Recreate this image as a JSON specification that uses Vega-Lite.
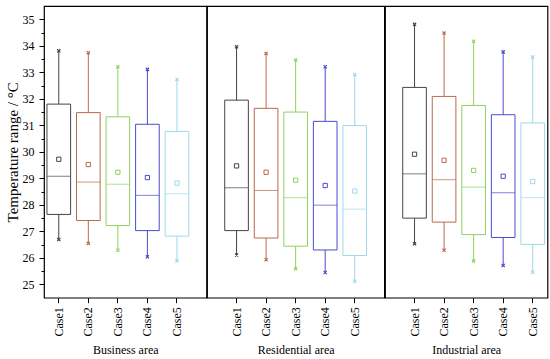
{
  "$schema": "https://vega.github.io/schema/vega-lite/v6.json",
  "padding": {"left": 4, "top": 5, "right": 5, "bottom": 4},
  "background": "white",
  "spacing": 0,
  "bounds": "flush",
  "data": {"values": [
    {"area": "Business area", "case": "Case1", "min": 26.69, "q1": 27.64, "median": 29.08, "mean": 29.72, "q3": 31.80, "max": 33.81},
    {"area": "Business area", "case": "Case2", "min": 26.54, "q1": 27.41, "median": 28.86, "mean": 29.52, "q3": 31.48, "max": 33.74},
    {"area": "Business area", "case": "Case3", "min": 26.29, "q1": 27.22, "median": 28.78, "mean": 29.23, "q3": 31.32, "max": 33.21},
    {"area": "Business area", "case": "Case4", "min": 26.04, "q1": 27.03, "median": 28.36, "mean": 29.03, "q3": 31.04, "max": 33.11},
    {"area": "Business area", "case": "Case5", "min": 25.89, "q1": 26.82, "median": 28.42, "mean": 28.82, "q3": 30.77, "max": 32.73},
    {"area": "Residential area", "case": "Case1", "min": 26.11, "q1": 27.03, "median": 28.65, "mean": 29.47, "q3": 31.95, "max": 33.96},
    {"area": "Residential area", "case": "Case2", "min": 25.93, "q1": 26.75, "median": 28.54, "mean": 29.23, "q3": 31.64, "max": 33.71},
    {"area": "Residential area", "case": "Case3", "min": 25.59, "q1": 26.44, "median": 28.27, "mean": 28.93, "q3": 31.50, "max": 33.46},
    {"area": "Residential area", "case": "Case4", "min": 25.45, "q1": 26.30, "median": 27.99, "mean": 28.73, "q3": 31.15, "max": 33.21},
    {"area": "Residential area", "case": "Case5", "min": 25.12, "q1": 26.09, "median": 27.84, "mean": 28.52, "q3": 30.99, "max": 32.91},
    {"area": "Industrial area", "case": "Case1", "min": 26.53, "q1": 27.50, "median": 29.17, "mean": 29.91, "q3": 32.43, "max": 34.81},
    {"area": "Industrial area", "case": "Case2", "min": 26.29, "q1": 27.35, "median": 28.95, "mean": 29.68, "q3": 32.09, "max": 34.48},
    {"area": "Industrial area", "case": "Case3", "min": 25.88, "q1": 26.88, "median": 28.67, "mean": 29.30, "q3": 31.75, "max": 34.17},
    {"area": "Industrial area", "case": "Case4", "min": 25.71, "q1": 26.77, "median": 28.46, "mean": 29.08, "q3": 31.40, "max": 33.77},
    {"area": "Industrial area", "case": "Case5", "min": 25.46, "q1": 26.51, "median": 28.27, "mean": 28.88, "q3": 31.09, "max": 33.58}
  ]},
  "hconcat": [
    {
      "width": 162.5, "height": 291.7,
      "transform": [{"filter": "datum.area === 'Business area'"}],
      "encoding": {
        "x": {"field": "case", "type": "nominal", "sort": null,
          "scale": {"type": "band", "paddingInner": 0.2, "paddingOuter": 0.35, "align": 0.1429},
          "axis": {"title": "Business area", "labelAngle": 270, "tickSize": 5, "labelPadding": 4, "titlePadding": 8, "domain": false}},
        "color": {"field": "case", "type": "nominal", "legend": null,
          "scale": {"domain": ["Case1", "Case2", "Case3", "Case4", "Case5"], "range": ["#444444", "#b86a4a", "#8fd35a", "#4a4ad0", "#9fd9ea"]}}
      },
      "layer": [
        {"mark": {"type": "rule", "strokeWidth": 1},
          "encoding": {
            "y": {"field": "min", "type": "quantitative", "title": "Temperature range / °C",
              "scale": {"domain": [24.5, 35.5], "nice": false, "zero": false},
              "axis": {"values": [25, 25.5, 26, 26.5, 27, 27.5, 28, 28.5, 29, 29.5, 30, 30.5, 31, 31.5, 32, 32.5, 33, 33.5, 34, 34.5, 35],
                "labelExpr": "datum.value % 1 === 0 ? format(datum.value, 'd') : ''",
                "tickSize": {"condition": {"test": "datum.value % 1 !== 0", "value": 3}, "value": 5},
                "labelOverlap": false, "grid": false, "labelPadding": 5, "titlePadding": 2, "titleFontSize": 15, "domain": false}},
            "y2": {"field": "max"}}},
        {"mark": {"type": "bar", "fill": "white", "strokeWidth": 1},
          "encoding": {
            "y": {"field": "q1", "type": "quantitative", "title": "Temperature range / °C",
              "axis": {"values": [25, 25.5, 26, 26.5, 27, 27.5, 28, 28.5, 29, 29.5, 30, 30.5, 31, 31.5, 32, 32.5, 33, 33.5, 34, 34.5, 35],
                "labelExpr": "datum.value % 1 === 0 ? format(datum.value, 'd') : ''",
                "tickSize": {"condition": {"test": "datum.value % 1 !== 0", "value": 3}, "value": 5},
                "labelOverlap": false, "grid": false, "labelPadding": 5, "titlePadding": 2, "titleFontSize": 15, "domain": false}},
            "y2": {"field": "q3"},
            "stroke": {"field": "case", "type": "nominal", "legend": null, "scale": {"domain": ["Case1", "Case2", "Case3", "Case4", "Case5"], "range": ["#444444", "#b86a4a", "#8fd35a", "#4a4ad0", "#9fd9ea"]}}}},
        {"mark": {"type": "tick", "thickness": 1, "size": 23.6},
          "encoding": {"y": {"field": "median", "type": "quantitative", "title": "Temperature range / °C",
              "axis": {"values": [25, 25.5, 26, 26.5, 27, 27.5, 28, 28.5, 29, 29.5, 30, 30.5, 31, 31.5, 32, 32.5, 33, 33.5, 34, 34.5, 35],
                "labelExpr": "datum.value % 1 === 0 ? format(datum.value, 'd') : ''",
                "tickSize": {"condition": {"test": "datum.value % 1 !== 0", "value": 3}, "value": 5},
                "labelOverlap": false, "grid": false, "labelPadding": 5, "titlePadding": 2, "titleFontSize": 15, "domain": false}}}},
        {"mark": {"type": "point", "shape": "square", "size": 18, "filled": false, "strokeWidth": 1, "opacity": 1},
          "encoding": {"y": {"field": "mean", "type": "quantitative", "title": "Temperature range / °C",
              "axis": {"values": [25, 25.5, 26, 26.5, 27, 27.5, 28, 28.5, 29, 29.5, 30, 30.5, 31, 31.5, 32, 32.5, 33, 33.5, 34, 34.5, 35],
                "labelExpr": "datum.value % 1 === 0 ? format(datum.value, 'd') : ''",
                "tickSize": {"condition": {"test": "datum.value % 1 !== 0", "value": 3}, "value": 5},
                "labelOverlap": false, "grid": false, "labelPadding": 5, "titlePadding": 2, "titleFontSize": 15, "domain": false}}}},
        {"transform": [{"fold": ["min", "max"], "as": ["stat", "val"]}],
          "mark": {"type": "point", "shape": "M-1,-1L1,1M-1,1L1,-1", "size": 10, "filled": false, "strokeWidth": 1.2, "opacity": 1},
          "encoding": {"y": {"field": "val", "type": "quantitative", "title": "Temperature range / °C",
              "axis": {"values": [25, 25.5, 26, 26.5, 27, 27.5, 28, 28.5, 29, 29.5, 30, 30.5, 31, 31.5, 32, 32.5, 33, 33.5, 34, 34.5, 35],
                "labelExpr": "datum.value % 1 === 0 ? format(datum.value, 'd') : ''",
                "tickSize": {"condition": {"test": "datum.value % 1 !== 0", "value": 3}, "value": 5},
                "labelOverlap": false, "grid": false, "labelPadding": 5, "titlePadding": 2, "titleFontSize": 15, "domain": false}}}}
      ]
    },
    {
      "width": 177.3, "height": 291.7,
      "transform": [{"filter": "datum.area === 'Residential area'"}],
      "encoding": {
        "x": {"field": "case", "type": "nominal", "sort": null,
          "scale": {"type": "band", "paddingInner": 0.2, "paddingOuter": 0.6, "align": 0.5},
          "axis": {"title": "Residential area", "labelAngle": 270, "tickSize": 5, "labelPadding": 4, "titlePadding": 8, "domain": false}},
        "color": {"field": "case", "type": "nominal", "legend": null,
          "scale": {"domain": ["Case1", "Case2", "Case3", "Case4", "Case5"], "range": ["#444444", "#b86a4a", "#8fd35a", "#4a4ad0", "#9fd9ea"]}}
      },
      "layer": [
        {"mark": {"type": "rule", "strokeWidth": 1},
          "encoding": {
            "y": {"field": "min", "type": "quantitative", "scale": {"domain": [24.5, 35.5], "nice": false, "zero": false}, "axis": null},
            "y2": {"field": "max"}}},
        {"mark": {"type": "bar", "fill": "white", "strokeWidth": 1},
          "encoding": {
            "y": {"field": "q1", "type": "quantitative", "axis": null},
            "y2": {"field": "q3"},
            "stroke": {"field": "case", "type": "nominal", "legend": null, "scale": {"domain": ["Case1", "Case2", "Case3", "Case4", "Case5"], "range": ["#444444", "#b86a4a", "#8fd35a", "#4a4ad0", "#9fd9ea"]}}}},
        {"mark": {"type": "tick", "thickness": 1, "size": 23.6},
          "encoding": {"y": {"field": "median", "type": "quantitative", "axis": null}}},
        {"mark": {"type": "point", "shape": "square", "size": 18, "filled": false, "strokeWidth": 1, "opacity": 1},
          "encoding": {"y": {"field": "mean", "type": "quantitative", "axis": null}}},
        {"transform": [{"fold": ["min", "max"], "as": ["stat", "val"]}],
          "mark": {"type": "point", "shape": "M-1,-1L1,1M-1,1L1,-1", "size": 10, "filled": false, "strokeWidth": 1.2, "opacity": 1},
          "encoding": {"y": {"field": "val", "type": "quantitative", "axis": null}}}
      ]
    },
    {
      "width": 162.5, "height": 291.7,
      "transform": [{"filter": "datum.area === 'Industrial area'"}],
      "encoding": {
        "x": {"field": "case", "type": "nominal", "sort": null,
          "scale": {"type": "band", "paddingInner": 0.2, "paddingOuter": 0.35, "align": 0.857},
          "axis": {"title": "Industrial area", "labelAngle": 270, "tickSize": 5, "labelPadding": 4, "titlePadding": 8, "domain": false}},
        "color": {"field": "case", "type": "nominal", "legend": null,
          "scale": {"domain": ["Case1", "Case2", "Case3", "Case4", "Case5"], "range": ["#444444", "#b86a4a", "#8fd35a", "#4a4ad0", "#9fd9ea"]}}
      },
      "layer": [
        {"mark": {"type": "rule", "strokeWidth": 1},
          "encoding": {
            "y": {"field": "min", "type": "quantitative", "scale": {"domain": [24.5, 35.5], "nice": false, "zero": false}, "axis": null},
            "y2": {"field": "max"}}},
        {"mark": {"type": "bar", "fill": "white", "strokeWidth": 1},
          "encoding": {
            "y": {"field": "q1", "type": "quantitative", "axis": null},
            "y2": {"field": "q3"},
            "stroke": {"field": "case", "type": "nominal", "legend": null, "scale": {"domain": ["Case1", "Case2", "Case3", "Case4", "Case5"], "range": ["#444444", "#b86a4a", "#8fd35a", "#4a4ad0", "#9fd9ea"]}}}},
        {"mark": {"type": "tick", "thickness": 1, "size": 23.6},
          "encoding": {"y": {"field": "median", "type": "quantitative", "axis": null}}},
        {"mark": {"type": "point", "shape": "square", "size": 18, "filled": false, "strokeWidth": 1, "opacity": 1},
          "encoding": {"y": {"field": "mean", "type": "quantitative", "axis": null}}},
        {"transform": [{"fold": ["min", "max"], "as": ["stat", "val"]}],
          "mark": {"type": "point", "shape": "M-1,-1L1,1M-1,1L1,-1", "size": 10, "filled": false, "strokeWidth": 1.2, "opacity": 1},
          "encoding": {"y": {"field": "val", "type": "quantitative", "axis": null}}}
      ]
    }
  ],
  "resolve": {"scale": {"color": "shared", "stroke": "shared"}},
  "config": {
    "view": {"stroke": "black", "strokeWidth": 1.2},
    "font": "Liberation Serif",
    "style": {"guide-label": {"font": "Liberation Serif", "fill": "black", "fontSize": 12}, "guide-title": {"font": "Liberation Serif", "fill": "black", "fontWeight": "normal", "fontSize": 12}},
    "axis": {"labelFont": "Liberation Serif", "titleFont": "Liberation Serif", "labelFontSize": 12, "titleFontSize": 12, "labelOverlap": false,
      "titleFontWeight": "normal", "labelColor": "black", "titleColor": "black", "tickColor": "black", "domainColor": "black", "tickWidth": 1}
  }
}
